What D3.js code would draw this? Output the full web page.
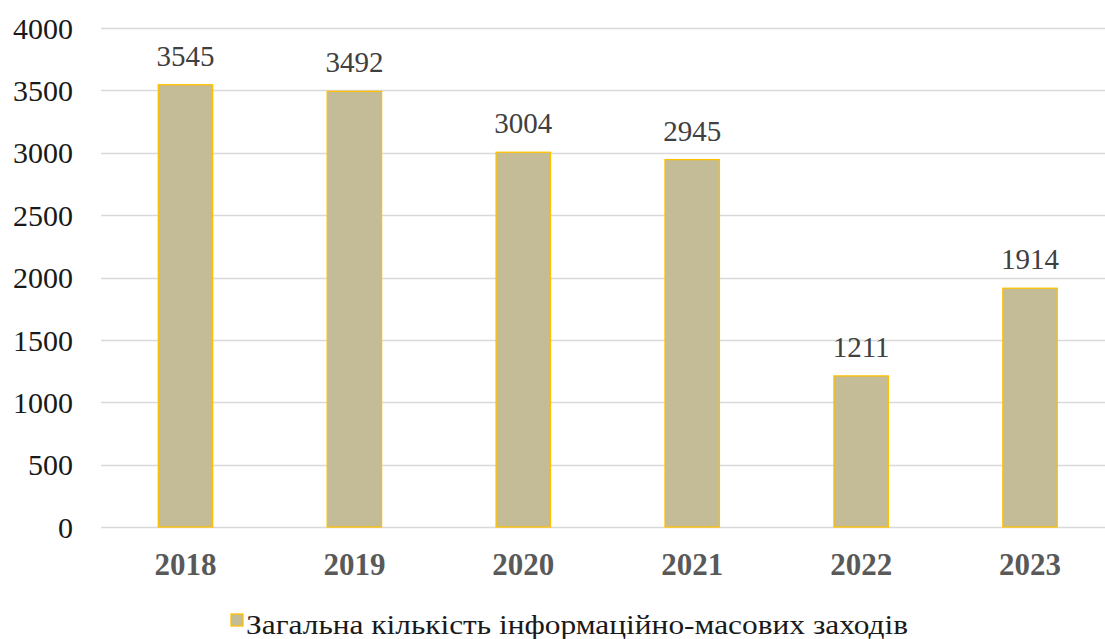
<!DOCTYPE html>
<html>
<head>
<meta charset="utf-8">
<script src="https://cdn.jsdelivr.net/npm/d3@7"></script>
<style>
  body { margin: 0; background: #fff; }
  svg text { font-family: "Times New Roman", "Liberation Serif", "DejaVu Serif", serif; }
</style>
</head>
<body>
<div id="chart"></div>
<script>
var years = ["2018", "2019", "2020", "2021", "2022", "2023"];
var totals = [3545, 3492, 3004, 2945, 1211, 1914];
var yTicks = [0, 500, 1000, 1500, 2000, 2500, 3000, 3500, 4000];
var seriesName = "Загальна кількість інформаційно-масових заходів";

var width = 1105, height = 639;
var margin = { top: 28, left: 101, bottom: 527 };

var svg = d3.select("#chart").append("svg")
    .attr("width", width)
    .attr("height", height);

var data = years.map(function (y, i) { return { year: y, value: totals[i] }; });

// plot area runs a bit past the right edge, as in the original
var x = d3.scaleBand().domain(years).range([margin.left, 1114.5]).paddingInner(0.678).paddingOuter(0.339);
var y = d3.scaleLinear().domain([0, 4000]).range([margin.bottom, margin.top]);

// gridlines
svg.append("g")
    .selectAll("line")
    .data(yTicks)
    .join("line")
    .attr("x1", margin.left)
    .attr("x2", width)
    .attr("y1", function (d) { return Math.round(y(d)) + 0.5; })
    .attr("y2", function (d) { return Math.round(y(d)) + 0.5; })
    .attr("stroke", "#d9d9d9")
    .attr("stroke-width", 1.3);

// y axis labels
var yAxis = d3.axisLeft(y).tickValues(yTicks).tickFormat(d3.format("d")).tickSize(0).tickPadding(0);
var yg = svg.append("g")
    .attr("transform", "translate(73,0)")
    .call(yAxis)
    .attr("font-family", null)
    .attr("font-size", null);
yg.select(".domain").remove();
yg.selectAll("text")
    .attr("fill", "#1a1a1a")
    .style("font-size", "30px")
    .attr("dy", "0.34em");

// bars
svg.append("g")
    .selectAll("rect")
    .data(data)
    .join("rect")
    .attr("x", function (d) { return x(d.year); })
    .attr("y", function (d) { return y(d.value); })
    .attr("width", x.bandwidth())
    .attr("height", function (d) { return y(0) - y(d.value); })
    .attr("fill", "#c4bc96")
    .attr("stroke", "#ffc000")
    .attr("stroke-width", 1.3);

// value labels
svg.append("g")
    .selectAll("text")
    .data(data)
    .join("text")
    .attr("x", function (d) { return x(d.year) + x.bandwidth() / 2; })
    .attr("y", function (d) { return y(d.value) - 19; })
    .attr("text-anchor", "middle")
    .attr("fill", "#404040")
    .style("font-size", "29px")
    .text(function (d) { return d.value; });

// x axis labels
var xAxis = d3.axisBottom(x).tickSize(0).tickPadding(0);
var xg = svg.append("g")
    .attr("transform", "translate(0,575)")
    .call(xAxis)
    .attr("font-family", null)
    .attr("font-size", null);
xg.select(".domain").remove();
xg.selectAll("text")
    .attr("y", 0)
    .attr("dy", 0)
    .attr("fill", "#595959")
    .style("font-size", "31px")
    .style("font-weight", "bold");

// legend
var legend = svg.append("g").attr("transform", "translate(231,614)");
legend.append("rect")
    .attr("width", 12)
    .attr("height", 12)
    .attr("fill", "#c4bc96")
    .attr("stroke", "#ffc000")
    .attr("stroke-width", 1.3);
legend.append("text")
    .attr("x", 15)
    .attr("y", 20)
    .attr("fill", "#1a1a1a")
    .style("font-size", "28px")
    .attr("textLength", 662)
    .attr("lengthAdjust", "spacingAndGlyphs")
    .text(seriesName);
</script>
</body>
</html>
